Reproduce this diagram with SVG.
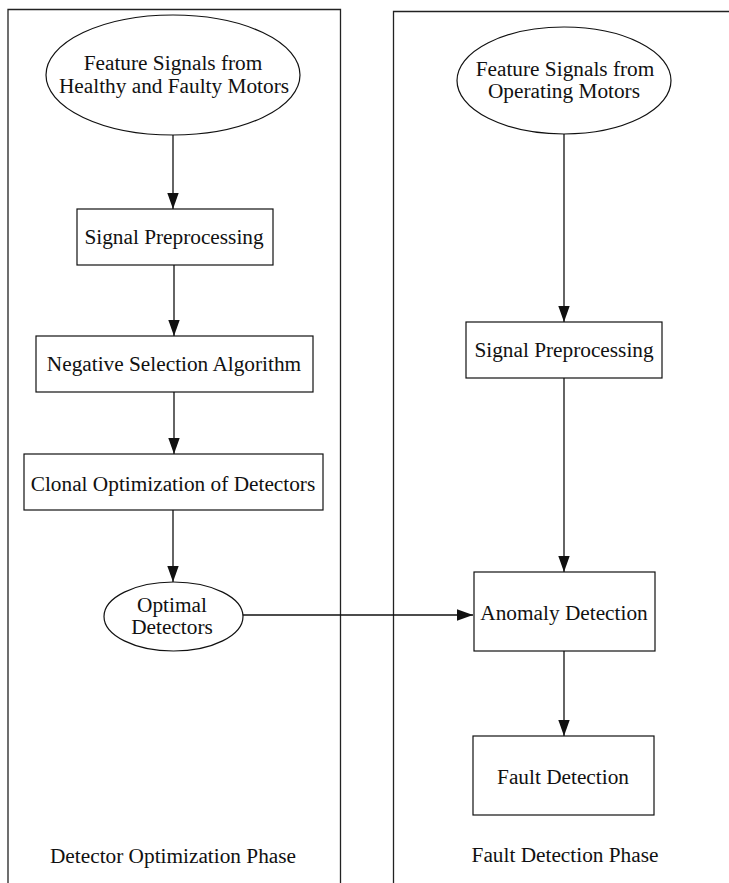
<svg xmlns="http://www.w3.org/2000/svg" width="729" height="883" viewBox="0 0 729 883">
  <style>
    .panel { fill: none; stroke: #222; stroke-width: 1.3; }
    .node { fill: #fff; stroke: #111; stroke-width: 1.2; }
    .edge { fill: none; stroke: #111; stroke-width: 1.3; }
    text { font-family: "Liberation Serif", "Times New Roman", serif; font-size: 21.3px; fill: #111; text-anchor: middle; }
  </style>
  <defs>
    <marker id="arrow" markerUnits="userSpaceOnUse" markerWidth="16" markerHeight="12" refX="16" refY="6" orient="auto">
      <path d="M0,0.3 L16,6 L0,11.7 Z" fill="#111"/>
    </marker>
  </defs>

  <rect width="729" height="883" fill="#fff"/>

  <!-- phase panels (open at the bottom / right edge) -->
  <g id="panel-optimization">
    <path class="panel" d="M8,883 V9.5 H340.5 V883"/>
    <text x="173" y="863">Detector Optimization Phase</text>
  </g>
  <g id="panel-detection">
    <path class="panel" d="M393.5,883 V11.5 H729"/>
    <text x="565" y="862">Fault Detection Phase</text>
  </g>

  <!-- connectors -->
  <g id="connectors">
    <line class="edge" x1="173" y1="135" x2="173" y2="209" marker-end="url(#arrow)"/>
    <line class="edge" x1="174" y1="265" x2="174" y2="336" marker-end="url(#arrow)"/>
    <line class="edge" x1="174" y1="392" x2="174" y2="454" marker-end="url(#arrow)"/>
    <line class="edge" x1="173" y1="510" x2="173" y2="582" marker-end="url(#arrow)"/>
    <line class="edge" x1="243" y1="615" x2="473" y2="615" marker-end="url(#arrow)"/>
    <line class="edge" x1="564" y1="134" x2="564" y2="322" marker-end="url(#arrow)"/>
    <line class="edge" x1="564" y1="378" x2="564" y2="572" marker-end="url(#arrow)"/>
    <line class="edge" x1="564" y1="651" x2="564" y2="736" marker-end="url(#arrow)"/>
  </g>

  <!-- detector optimization nodes -->
  <g id="feature-healthy-faulty">
    <ellipse class="node" cx="173" cy="75" rx="127" ry="60"/>
    <text x="173" y="70">Feature Signals from</text>
    <text x="174" y="93">Healthy and Faulty Motors</text>
  </g>
  <g id="preprocess-left">
    <rect class="node" x="77" y="209" width="196" height="56"/>
    <text x="174" y="244">Signal Preprocessing</text>
  </g>
  <g id="negative-selection">
    <rect class="node" x="36" y="336" width="277" height="56"/>
    <text x="174" y="371">Negative Selection Algorithm</text>
  </g>
  <g id="clonal-optimization">
    <rect class="node" x="24" y="454" width="299" height="56"/>
    <text x="173" y="491">Clonal Optimization of Detectors</text>
  </g>
  <g id="optimal-detectors">
    <ellipse class="node" cx="173.5" cy="616.5" rx="69.5" ry="34.5"/>
    <text x="172" y="612">Optimal</text>
    <text x="172" y="634">Detectors</text>
  </g>

  <!-- fault detection nodes -->
  <g id="feature-operating">
    <ellipse class="node" cx="564" cy="80.5" rx="107" ry="53.5"/>
    <text x="565" y="76">Feature Signals from</text>
    <text x="564" y="98">Operating Motors</text>
  </g>
  <g id="preprocess-right">
    <rect class="node" x="466" y="322" width="196" height="56"/>
    <text x="564" y="357">Signal Preprocessing</text>
  </g>
  <g id="anomaly-detection">
    <rect class="node" x="474" y="572" width="181" height="79"/>
    <text x="564" y="620">Anomaly Detection</text>
  </g>
  <g id="fault-detection">
    <rect class="node" x="473" y="736" width="181" height="79"/>
    <text x="563" y="784">Fault Detection</text>
  </g>
</svg>
